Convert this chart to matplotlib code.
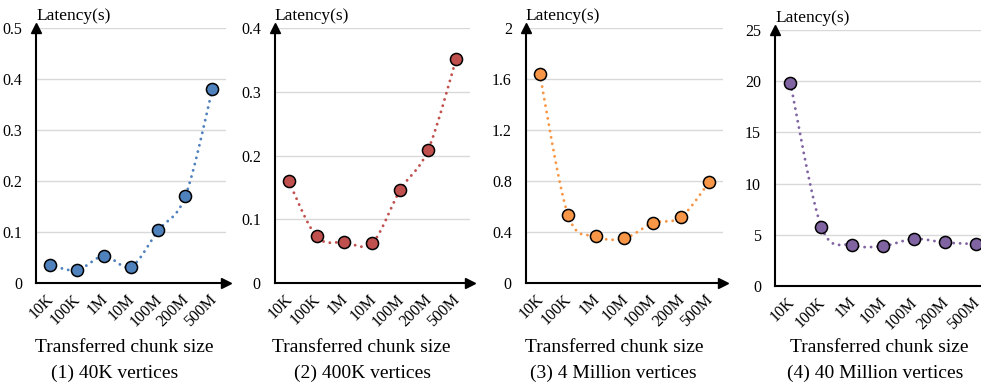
import numpy as np
import matplotlib
matplotlib.use("Agg")
import matplotlib.pyplot as plt

plt.rcParams['font.family'] = ['Liberation Serif', 'DejaVu Serif']

categories = ["10K", "100K", "1M", "10M", "100M", "200M", "500M"]
lat_40k = [0.036, 0.025, 0.053, 0.032, 0.103, 0.170, 0.381]
lat_400k = [0.160, 0.073, 0.064, 0.063, 0.146, 0.209, 0.351]
lat_4m = [1.64, 0.535, 0.365, 0.350, 0.470, 0.515, 0.790]
lat_40m = [19.8, 5.8, 4.0, 3.9, 4.6, 4.25, 4.1]

titles = ["(1) 40K vertices", "(2) 400K vertices", "(3) 4 Million vertices", "(4) 40 Million vertices"]
series = [lat_40k, lat_400k, lat_4m, lat_40m]
colors = ["#4F81BD", "#C0504D", "#F79646", "#8064A2"]
ylims = [0.5, 0.4, 2.0, 25]
ysteps = [0.1, 0.1, 0.4, 5]

W, H = 981, 389
# panel boxes in pixels: left, right, top, bottom
boxes = [(36, 226, 28, 283), (274.7, 470, 28, 283), (525.7, 723, 28, 283), (775, 991, 30, 286)]
xlabel_cx = [124, 361, 614, 879]
title_cx = [115, 363, 613, 875]

fig = plt.figure(figsize=(W / 100, H / 100), dpi=100)


def smooth_curve(x, y, m=30):
    pts = np.column_stack([x, y]).astype(float)
    n = len(pts)
    out = [pts[0]]
    t = np.linspace(0, 1, m + 1)[1:, None]
    for i in range(n - 1):
        p0 = pts[i - 1] if i > 0 else pts[i]
        p1 = pts[i]
        p2 = pts[i + 1]
        p3 = pts[i + 2] if i + 2 < n else pts[i + 1]
        c1 = p1 + (p2 - p0) / 6.0
        c2 = p2 - (p3 - p1) / 6.0
        seg = ((1 - t) ** 3) * p1 + 3 * ((1 - t) ** 2) * t * c1 + 3 * (1 - t) * t ** 2 * c2 + t ** 3 * p2
        out.extend(seg)
    return np.array(out)


for k in range(4):
    l, r, t, b = boxes[k]
    ax = fig.add_axes([l / W, 1 - b / H, (r - l) / W, (b - t) / H])
    vals = series[k]
    x = np.arange(len(categories))
    cv = smooth_curve(x, vals)
    ax.plot(cv[:, 0], cv[:, 1], color=colors[k], lw=2.1, linestyle=(0, (0.01, 2.2)),
            dash_capstyle='round', zorder=3)
    ax.plot(x, vals, 'o', color=colors[k], markeredgecolor='black', markeredgewidth=1.1,
            markersize=8.7, zorder=4, clip_on=False)
    ax.set_xlim(-0.5, len(categories) - 0.5)
    ax.set_ylim(0, ylims[k])
    yt = np.arange(0, ylims[k] + ysteps[k] / 2, ysteps[k])
    ax.set_yticks(yt)
    ax.set_yticklabels([("0" if v == 0 else ("%g" % round(v, 2))) for v in yt], fontsize=11.5)
    ax.set_xticks(x)
    ax.set_xticklabels(categories, rotation=45, ha='right', va='center_baseline',
                       rotation_mode='anchor', fontsize=11.5)
    ax.tick_params(axis='y', length=0, pad=10)
    ax.tick_params(axis='x', length=0, pad=9)
    ax.grid(axis='y', color='#D9D9D9', lw=1.0)
    ax.set_axisbelow(True)
    for s in ['top', 'right']:
        ax.spines[s].set_visible(False)
    for s in ['left', 'bottom']:
        ax.spines[s].set_linewidth(1.5)
        ax.spines[s].set_color('black')
    ax.plot([0], [1], marker='^', color='black', markersize=7, transform=ax.transAxes, clip_on=False)
    if k < 3:
        ax.plot([1], [0], marker='>', color='black', markersize=7, transform=ax.transAxes, clip_on=False)
    ax.annotate("Latency(s)", xy=(0, 1), xycoords='axes fraction', xytext=(0, 3),
                textcoords='offset points', fontsize=12.5, ha='left', va='bottom')
    fig.text(xlabel_cx[k] / W, 1 - 347 / H, "Transferred chunk size", fontsize=14, ha='center', va='center')
    fig.text(title_cx[k] / W, 1 - 373 / H, titles[k], fontsize=14, ha='center', va='center')

fig.savefig("out.png", dpi=100)
